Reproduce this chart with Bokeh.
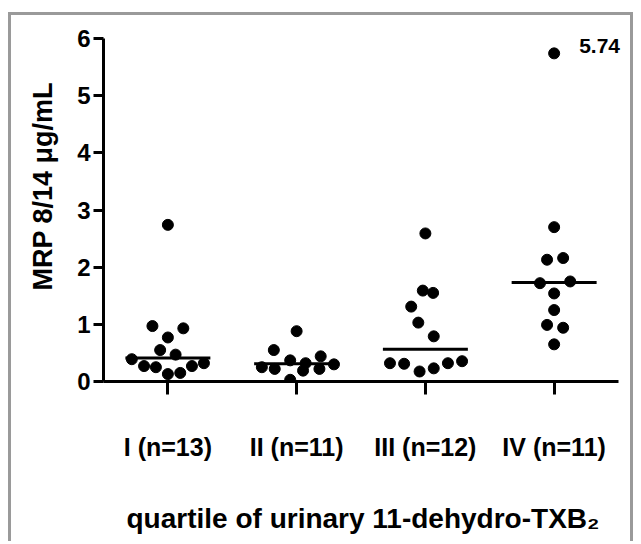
from bokeh.plotting import figure
from bokeh.models import Range1d, Label, FixedTicker, Title
from bokeh.embed import file_html
from bokeh.resources import INLINE

# ---- data ----
group_pos = [1, 2, 3, 4]
group_labels = ["I (n=13)", "II (n=11)", "III (n=12)", "IV (n=11)"]

q1_vals = [2.74, 0.97, 0.93, 0.77, 0.55, 0.47, 0.39, 0.27, 0.25, 0.32, 0.27, 0.15, 0.13]
q1_jit = [0.0, -0.12, 0.12, 0.0, -0.06, 0.06, -0.28, -0.185, -0.093, 0.28, 0.187, 0.096, 0.0]

q2_vals = [0.88, 0.55, 0.37, 0.44, 0.25, 0.22, 0.32, 0.19, 0.22, 0.30, 0.03]
q2_jit = [0.0, -0.177, -0.05, 0.187, -0.27, -0.17, 0.07, 0.05, 0.177, 0.29, -0.05]

q3_vals = [2.59, 1.59, 1.55, 1.31, 1.03, 0.79, 0.32, 0.31, 0.175, 0.23, 0.32, 0.355]
q3_jit = [0.0, -0.02, 0.06, -0.11, -0.055, 0.065, -0.275, -0.165, -0.045, 0.065, 0.175, 0.285]

q4_vals = [5.74, 2.70, 2.13, 2.16, 1.72, 1.75, 1.54, 1.25, 0.99, 0.94, 0.65]
q4_jit = [0.0, 0.0, -0.055, 0.07, -0.11, 0.125, 0.0, 0.0, -0.055, 0.07, 0.0]

medians = [0.41, 0.31, 0.565, 1.73]
y_ticks = [0, 1, 2, 3, 4, 5, 6]
outlier_text = "5.74"
y_title = "MRP 8/14 \u03bcg/mL"
x_title = "quartile of urinary 11-dehydro-TXB\u2082"

FONT = "Liberation Sans"

p = figure(width=625, height=529, output_backend="svg", toolbar_location=None,
           x_range=Range1d(0.5, 4.531), y_range=Range1d(0, 6.0),
           min_border_left=92, min_border_right=14, min_border_top=23, min_border_bottom=163)
p.styles = {"border-top": "3px solid #9a9a9a", "border-left": "3px solid #9a9a9a",
            "border-right": "3px solid #9a9a9a", "margin-left": "8px", "margin-top": "12px"}
p.outline_line_color = None
p.grid.visible = False
p.background_fill_color = "white"
p.border_fill_color = "white"

# axes
p.xaxis.bounds = (0.5, 4.5)
p.xaxis.ticker = FixedTicker(ticks=group_pos)
p.xaxis.major_label_overrides = {g: l for g, l in zip(group_pos, group_labels)}
p.xaxis.axis_line_width = 3
p.xaxis.major_tick_line_width = 3
p.xaxis.major_tick_out = 13
p.xaxis.major_tick_in = 0
p.xaxis.minor_tick_line_color = None
p.xaxis.major_label_standoff = 38
p.xaxis.major_label_text_font = FONT
p.xaxis.major_label_text_font_style = "bold"
p.xaxis.major_label_text_font_size = "25px"
p.xaxis.major_label_text_color = "black"
p.xaxis.axis_label = x_title
p.xaxis.axis_label_standoff = 39
p.xaxis.axis_label_text_font = FONT
p.xaxis.axis_label_text_font_style = "bold"
p.xaxis.axis_label_text_font_size = "28px"
p.xaxis.axis_label_text_color = "black"

p.yaxis.ticker = FixedTicker(ticks=y_ticks)
p.yaxis.axis_line_width = 3
p.yaxis.major_tick_line_width = 3
p.yaxis.major_tick_out = 10
p.yaxis.major_tick_in = 0
p.yaxis.minor_tick_line_color = None
p.yaxis.major_label_standoff = 3
p.yaxis.major_label_text_font = FONT
p.yaxis.major_label_text_font_style = "bold"
p.yaxis.major_label_text_font_size = "24px"
p.yaxis.major_label_text_color = "black"

# points
xs, ys = [], []
for g, vals, jit in zip(group_pos, [q1_vals, q2_vals, q3_vals, q4_vals],
                        [q1_jit, q2_jit, q3_jit, q4_jit]):
    for v, j in zip(vals, jit):
        xs.append(g + j)
        ys.append(v)
p.scatter(xs, ys, size=11, color="black", line_color="black")

# medians
p.segment(x0=[g - 0.33 for g in group_pos], y0=medians,
          x1=[g + 0.33 for g in group_pos], y1=medians,
          line_width=3, line_color="black")

# outlier value
p.add_layout(Label(x=4, y=5.74, text=outlier_text, x_offset=25, y_offset=7,
                   text_font=FONT, text_font_style="bold", text_font_size="21px",
                   text_baseline="middle", text_align="left", text_color="black"))

# y axis title
p.add_layout(Title(text=y_title, align="left", offset=91, standoff=30, vertical_align="top",
                   text_font=FONT, text_font_style="bold", text_font_size="27px",
                   text_color="black"), "left")

open("out.html", "w").write(file_html(p, INLINE))
